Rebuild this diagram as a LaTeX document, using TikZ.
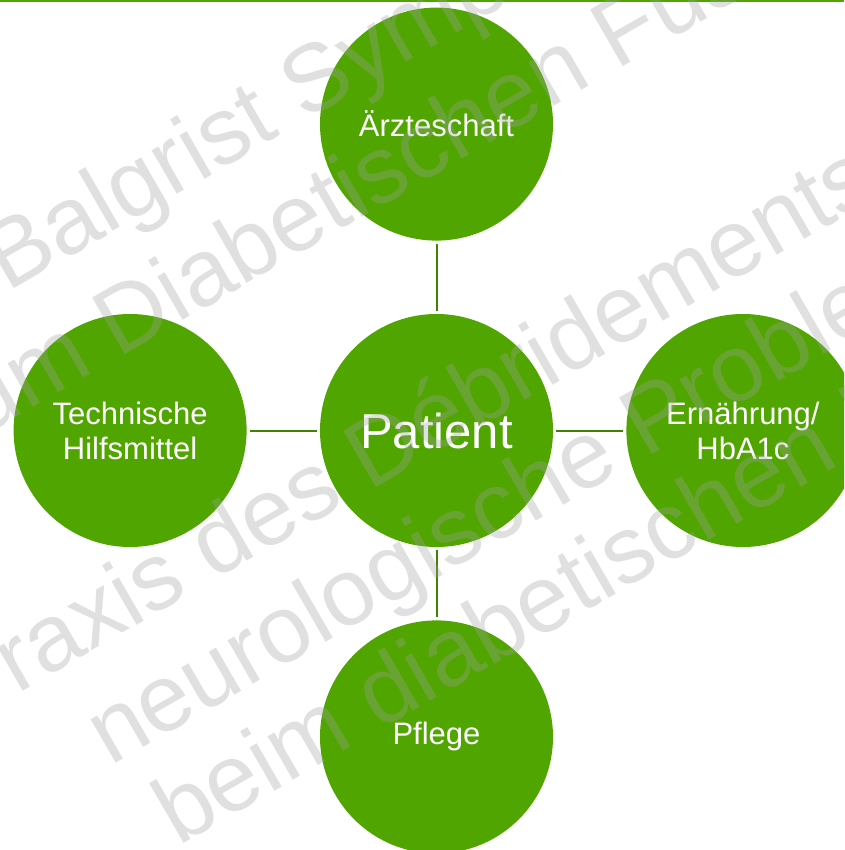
\documentclass[tikz,border=0pt]{standalone}
\usepackage{fontspec}
\setmainfont{Liberation Sans}
\usepackage{tikz}
\usetikzlibrary{positioning}
\definecolor{kreisgruen}{RGB}{80,165,0}
\definecolor{liniegruen}{RGB}{62,132,0}
\definecolor{wzgrau}{RGB}{160,160,160}
\tikzset{
  rolenode/.style = {align=center, circle, inner sep=0pt, text centered,
    minimum size=233pt, fill=kreisgruen, text=white},
  nd_pat/.style = {rolenode, font=\fontsize{49}{56}\selectfont},% mitte
  nd_role/.style = {rolenode, font=\fontsize{31}{35}\selectfont},% aussen
  nd_link/.style = {draw=liniegruen, line width=2pt, shorten <=3pt, shorten >=3pt},% verbindung
  wm_line/.style = {anchor=base west, rotate=30, inner sep=0pt, text=wzgrau,
    text opacity=0.32, font=\fontsize{95}{109}\selectfont}% wasserzeichen
}
\begin{document}
\begin{tikzpicture}[x=1pt,y=-1pt]
\useasboundingbox (0,0) rectangle (844,850);
\clip (0,0) rectangle (844,850);
\fill [kreisgruen] (0,0) rectangle (844,2.5);
\node [nd_pat] (pat) at (436.5,430.5) {Patient};
\node [nd_role, above=73pt of pat] (arzt) {Ärzteschaft};
\node [nd_role, below=73pt of pat] (pflege) {Pflege};
\node [nd_role, left=73pt of pat] (tech) {Technische\\Hilfsmittel};
\node [nd_role, right=73pt of pat] (ernae) {Ernährung/\\HbA1c};
\draw [nd_link] (pat) -- (arzt);
\draw [nd_link] (pat) -- (pflege);
\draw [nd_link] (pat) -- (tech);
\draw [nd_link] (pat) -- (ernae);
% wasserzeichen
\node [wm_line] (wm1) at (7,293) {Balgrist Symposium};
\node [wm_line] (wm2) at (-60,461) {zum Diabetischen Fuss};
\node [wm_line] (wm3) at (-38,726) {Praxis des Débridements};
\node [wm_line] (wm4) at (110,767) {neurologische Probleme};
\node [wm_line] (wm5) at (178,847) {beim diabetischen Fuss};
\end{tikzpicture}
\end{document}
